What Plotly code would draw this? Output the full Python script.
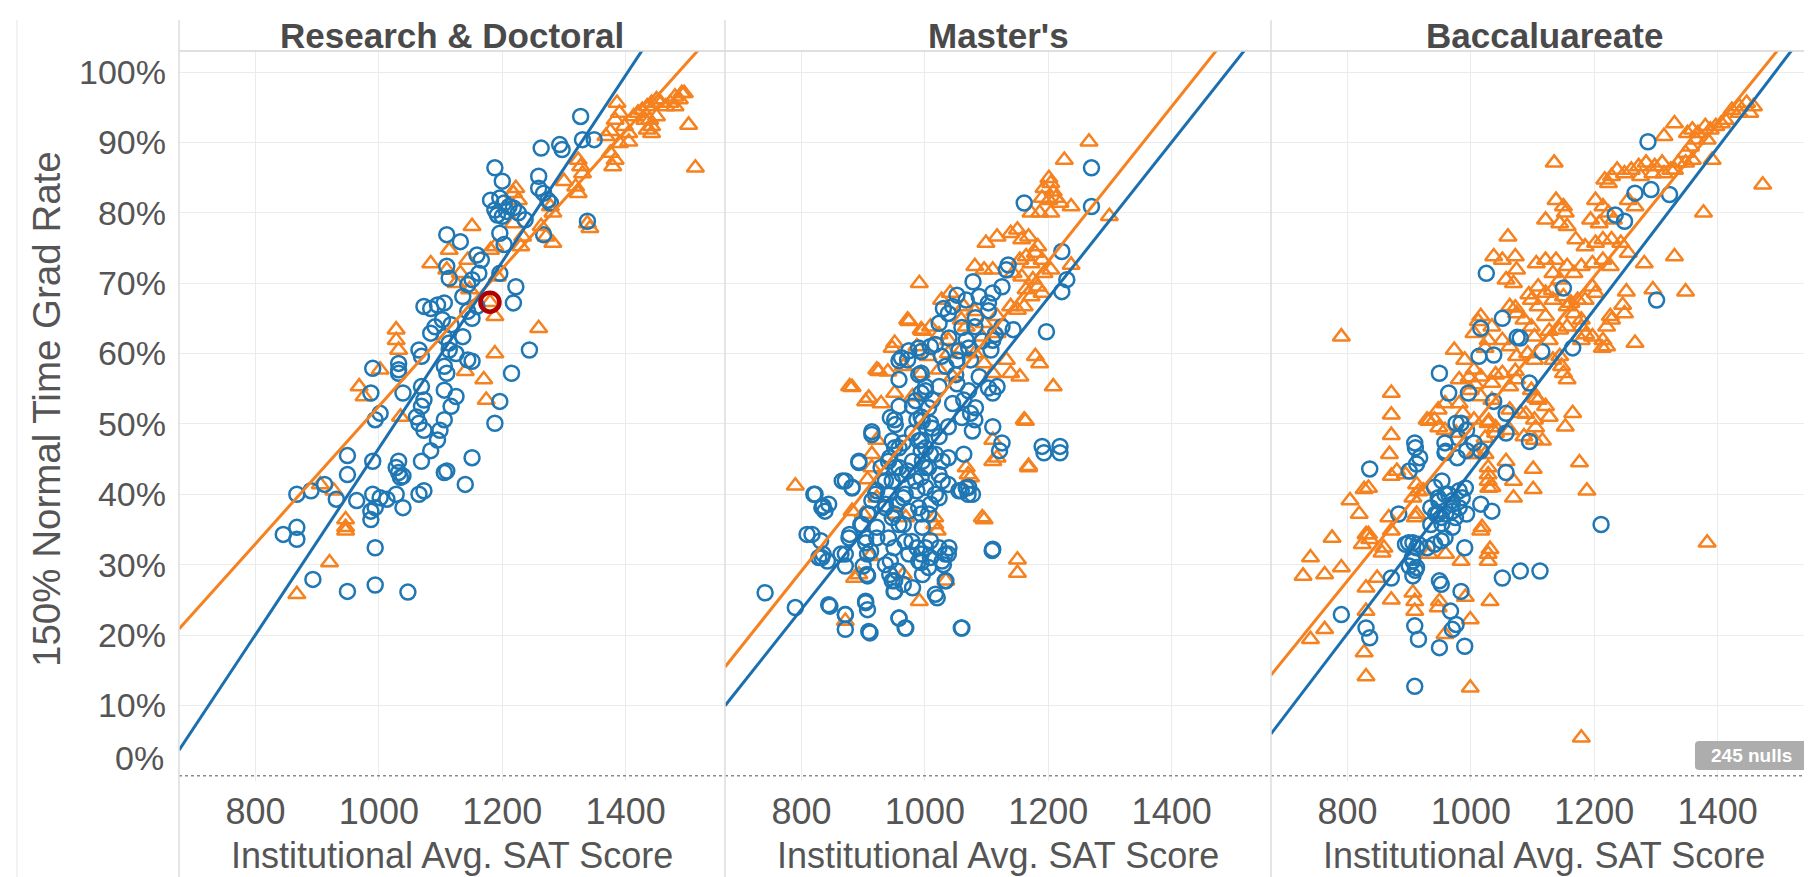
import plotly.graph_objects as go
from plotly.subplots import make_subplots

panels = ["Research & Doctoral", "Master's", "Baccaluareate"]
x_ticks = [800, 1000, 1200, 1400]
y_ticks = [10, 20, 30, 40, 50, 60, 70, 80, 90, 100]
y_ticktext = ["10%", "20%", "30%", "40%", "50%", "60%", "70%", "80%", "90%", "100%"]
x_range = [676, 1561]
y_range = [-0.75, 103.0]

# ---------------- Research & Doctoral ----------------
p1_blue_sat = [1327, 1263, 1293, 1297, 1330, 1349, 1338, 1259, 1259, 1267, 1188, 1200, 1181, 1188, 1196, 1203,
               1211, 1218, 1207, 1200, 1192, 1196, 1203, 1226, 1237, 1274, 1267, 1278, 1110, 1132, 1110, 1114,
               1159, 1166, 1162, 1151, 1144, 1196, 1222, 1218, 1073, 1084, 1095, 1106, 1103, 1091, 1117, 1144,
               1151, 1159, 1136, 1084, 1106, 1114, 1136, 1144, 1125, 1114, 1106, 1110, 1151, 1069, 1065, 1032,
               1032, 990, 987, 994, 1002, 1032, 1039, 1069, 1073, 1069, 1061, 1065, 1073, 1099, 1106, 1117,
               1125, 1106, 1095, 1188, 1196, 1244, 1215, 949, 949, 990, 1032, 1028, 1035, 1039, 1032, 1069,
               1084, 1065, 1073, 1110, 1106, 1151, 1140, 867, 890, 912, 931, 964, 990, 1002, 987, 987,
               994, 1013, 1028, 1039, 845, 867, 867, 893, 949, 994, 994, 1047]
p1_blue_rate = [93.7, 89.2, 89.7, 89.0, 90.4, 90.4, 78.8, 85.2, 83.5, 82.8, 86.4, 84.5, 81.8, 80.4, 82.1, 81.4,
                80.9, 80.7, 80.2, 79.5, 79.7, 77.1, 75.5, 80.0, 79.0, 81.8, 76.9, 81.4, 76.9, 75.9, 72.4, 70.7,
                74.0, 73.3, 71.4, 70.5, 69.8, 71.4, 69.5, 67.2, 66.7, 66.4, 66.9, 67.2, 64.8, 63.8, 64.1, 66.0,
                65.0, 66.7, 68.1, 62.9, 62.4, 61.5, 62.4, 59.1, 60.0, 60.5, 58.2, 57.2, 58.9, 59.6, 60.5, 58.6,
                57.7, 57.9, 54.4, 50.6, 51.5, 57.2, 54.4, 55.3, 53.4, 52.5, 51.0, 50.1, 49.1, 49.1, 54.8, 52.5,
                53.9, 50.6, 47.7, 50.1, 53.2, 60.5, 57.2, 45.5, 42.8, 44.7, 44.7, 43.8, 42.4, 42.6, 43.1, 44.7,
                46.2, 40.0, 40.5, 43.3, 43.1, 45.2, 41.4, 40.0, 40.5, 41.4, 39.3, 39.1, 40.0, 39.5, 37.6, 36.4,
                38.1, 39.3, 40.0, 38.1, 34.3, 35.3, 33.6, 27.9, 26.2, 32.4, 27.1, 26.1]

p1_orange_sat = [1386, 1390, 1383, 1398, 1405, 1375, 1368, 1390, 1405, 1413, 1427, 1435, 1442, 1450, 1457, 1465,
                 1472, 1480, 1487, 1491, 1480, 1495, 1439, 1442, 1442, 1435, 1502, 1513, 1431, 1420, 1450, 1375,
                 1383, 1379, 1323, 1327, 1330, 1319, 1323, 1338, 1342, 1300, 1278, 1282, 1263, 1271, 1282, 1233,
                 1230, 1222, 1218, 1226, 1218, 1188, 1181, 1192, 1151, 1114, 1084, 1110, 1132, 1144, 1125, 1147,
                 1188, 1259, 1188, 1170, 1174, 1140, 1028, 1028, 1032, 1002, 968, 976, 1035, 905, 927, 946,
                 946, 946, 920, 867, 1180]
p1_orange_rate = [95.6, 94.2, 93.2, 92.3, 91.3, 91.6, 90.9, 89.9, 90.1, 93.7, 94.6, 95.1, 95.6, 96.1, 95.6, 95.1,
                  95.6, 95.1, 96.1, 97.0, 96.5, 97.0, 93.2, 92.3, 91.3, 91.8, 92.5, 86.4, 93.2, 94.2, 93.7, 88.5,
                  87.5, 86.6, 87.5, 86.6, 85.6, 83.7, 82.8, 78.5, 77.8, 84.5, 80.9, 80.0, 78.1, 76.6, 75.7, 76.6,
                  75.2, 83.5, 82.8, 81.8, 78.5, 75.2, 74.7, 70.9, 78.1, 74.7, 72.8, 71.9, 71.4, 73.3, 70.0, 69.1,
                  65.3, 63.6, 60.0, 56.3, 53.4, 57.5, 63.4, 61.9, 60.5, 57.7, 55.3, 53.9, 51.0, 41.4, 40.5, 36.4,
                  35.3, 34.8, 30.3, 25.8, 67.3]

# ---------------- Master's ----------------
p2_blue_sat = [1270, 1270, 1161, 1222, 1230, 1222, 1135, 1132, 1125, 1110, 1078, 1052, 1045, 1030, 1067, 1088,
               1103, 1023, 1038, 1081, 1067, 1110, 1125, 1143, 1197, 962, 972, 994, 1009, 1027, 1052, 1074,
               1107, 1117, 1110, 1110, 951, 914, 980, 994, 1023, 1045, 1063, 1074, 1081, 1009, 1125, 1190,
               1219, 994, 1001, 958, 1012, 1052, 1034, 1088, 980, 994, 1023, 965, 1038, 994, 958, 987,
               893, 871, 882, 820, 835, 838, 809, 831, 828, 842, 835, 871, 864, 878, 896, 907,
               904, 907, 900, 907, 922, 922, 936, 943, 951, 951, 965, 980, 994, 994, 987, 1009,
               1009, 1023, 1038, 1030, 1020, 1034, 1059, 1067, 1070, 1110, 1063, 1121, 1193, 1219, 741, 790,
               846, 871, 871, 904, 907, 911, 958, 969, 1059, 958, 936, 965, 987, 994, 1001, 936,
               951, 965, 994, 1009, 1023, 929, 943, 980, 1009, 1038, 1023, 1038, 922, 914, 951, 972, 994,
               944, 952, 947, 958, 941, 952, 947, 941, 955, 947, 958, 941, 950, 944, 955, 947,
               950, 968, 974, 974, 968, 963, 936, 931, 920, 909, 904, 912, 906, 898,
               990, 1001, 985, 1006, 996, 1012, 990, 1001, 1017, 996, 1006, 985, 1001, 1017, 990, 1006,
               996, 979, 1001, 990, 1006, 996, 1028, 1028, 1033, 1039, 1028, 1033, 1017,
               958, 974, 990, 1017, 1039, 1060, 1082, 1103, 1055, 1071, 1093, 1114, 1050, 1071, 1082, 1060,
               1077, 1103, 1055, 1071, 1077,
               822, 833, 844, 866, 882, 893, 914, 817, 833, 871, 877, 904, 844, 871, 909, 958,
               968, 1060, 1109]
p2_blue_rate = [86.4, 80.9, 81.4, 74.5, 70.5, 68.8, 72.6, 71.9, 69.5, 68.6, 70.2, 68.3, 66.7, 66.4, 67.6, 68.1,
                67.2, 64.3, 65.7, 63.8, 61.9, 61.9, 63.8, 63.4, 63.1, 59.4, 59.1, 60.3, 61.0, 59.6, 59.1, 59.1,
                60.5, 55.3, 54.4, 49.6, 50.6, 48.9, 52.5, 54.4, 55.3, 52.9, 53.4, 51.5, 50.6, 50.1, 47.3, 46.8,
                46.8, 57.2, 55.3, 56.3, 53.4, 55.7, 58.2, 56.7, 48.7, 47.7, 48.2, 47.3, 49.6, 51.0, 52.5, 50.6,
                44.5, 41.9, 40.9, 40.0, 38.3, 37.6, 34.3, 33.4, 31.0, 30.5, 31.5, 29.8, 31.5, 34.3, 35.7, 37.2,
                33.1, 31.5, 29.8, 28.4, 33.8, 35.3, 30.0, 28.6, 27.7, 26.2, 27.2, 26.7, 31.5, 30.3, 32.4, 33.4,
                31.0, 32.4, 31.5, 30.0, 25.3, 27.7, 40.5, 40.9, 40.0, 32.2, 45.7, 46.2, 45.9, 45.9, 26.0, 23.9,
                24.1, 22.9, 20.8, 24.6, 23.6, 20.3, 22.4, 21.0, 21.0, 43.8, 41.9, 39.5, 40.5, 42.4, 43.8, 38.1,
                37.2, 35.7, 37.2, 38.6, 39.5, 43.8, 45.2, 44.7, 45.7, 45.2, 42.8, 41.4, 40.5, 39.1, 46.6, 43.3, 46.2,
                50.9, 49.9, 47.6, 46.6, 44.7, 43.8, 41.9, 40.0, 38.6, 36.7, 35.7, 33.8, 32.4, 30.5, 29.1, 27.7,
                26.2, 33.3, 31.5, 37.6, 40.0, 42.8, 38.6, 41.9, 40.0, 37.2, 33.8, 31.9, 28.6, 35.7,
                57.0, 54.7, 53.3, 52.3, 50.4, 49.4, 47.6, 46.6, 45.7, 44.7, 43.8, 41.9, 41.0, 40.0, 38.1, 37.2,
                35.3, 33.3, 32.4, 30.5, 29.6, 28.6, 44.7, 41.9, 31.5, 32.4, 30.5, 27.7, 25.8,
                59.0, 60.4, 60.8, 61.3, 62.2, 63.7, 65.1, 66.1, 60.4, 60.8, 61.8, 62.7, 57.0, 54.7, 52.3, 50.9,
                49.0, 55.1, 40.5, 41.0, 40.0,
                40.0, 38.1, 38.6, 41.9, 41.0, 44.7, 48.5, 34.3, 31.0, 31.5, 33.8, 24.8, 24.3, 22.9, 20.5, 22.4,
                21.0, 21.0, 32.0]

p2_orange_sat = [1266, 1226, 1201, 1204, 1193, 1208, 1190, 1201, 1212, 1219, 1237, 1172, 1186, 1204, 1299, 1099,
                 1117, 1139, 1150, 1157, 1168, 1183, 1179, 1164, 1154, 1172, 1190, 1193, 1204, 1237, 1081, 1096,
                 1110, 1143, 1157, 1175, 1183, 1164, 1172, 1190, 991, 1027, 1041, 1063, 1059, 1081, 1096, 1117,
                 1139, 1150, 1161, 972, 994, 1009, 1023, 1038, 1067, 1092, 1117, 951, 987, 1005, 1038, 1059,
                 1081, 1096, 1132, 922, 940, 965, 994, 1023, 1045, 1110, 1139, 1154, 1179, 1186, 1208, 878,
                 904, 929, 951, 980, 1161, 1110, 922, 790, 914, 914, 907, 922, 886, 893, 911, 965,
                 991, 969, 1016, 1020, 1016, 1067, 1070, 1074, 1096, 1110, 1117, 1168, 1150, 1150, 1034, 871,
                 951, 900, 882, 882, 909, 947, 974, 996, 925, 1093, 1163, 1168]
p2_orange_rate = [90.1, 87.5, 84.9, 84.2, 83.5, 83.0, 82.1, 81.8, 82.1, 81.4, 80.9, 80.0, 80.0, 80.0, 79.5, 75.7,
                  76.6, 77.1, 77.6, 76.2, 76.6, 75.2, 74.3, 73.8, 73.3, 72.8, 73.3, 71.4, 71.9, 72.6, 72.4, 71.9,
                  71.9, 71.4, 70.9, 70.5, 69.5, 69.1, 68.1, 68.6, 70.0, 67.6, 68.6, 66.7, 64.8, 66.0, 64.3, 65.3,
                  66.7, 66.2, 66.7, 64.8, 63.4, 63.8, 62.7, 61.9, 63.8, 62.4, 62.9, 61.5, 61.0, 59.6, 60.0, 60.5,
                  60.0, 58.6, 59.1, 57.7, 57.4, 58.2, 57.2, 57.7, 56.7, 57.2, 57.2, 56.7, 59.6, 58.6, 55.3, 55.3,
                  53.2, 52.9, 54.4, 53.9, 50.6, 47.7, 47.7, 41.2, 45.7, 43.8, 42.1, 39.5, 28.1, 28.6, 31.2, 28.6,
                  24.8, 36.7, 35.7, 34.8, 36.7, 43.8, 42.8, 42.4, 36.4, 44.7, 45.2, 43.8, 30.7, 28.8, 27.7, 22.0,
                  37.2, 37.2, 37.6, 55.2, 53.7, 60.8, 64.6, 63.2, 57.5, 36.7, 50.4, 44.0]

# ---------------- Baccaluareate ----------------
p3_blue_sat = [1287, 1266, 1292, 1322, 1234, 1249, 1025, 1150, 1301, 1051, 1016, 1080, 1013, 1037, 1115, 1165,
               949, 964, 996, 1037, 1095, 1057, 984, 976, 993, 1057, 909, 958, 1005, 1095, 836, 900,
               912, 917, 958, 993, 1016, 978, 883, 935, 947, 952, 970, 981, 993, 1016, 1034, 1057,
               947, 958, 981, 970, 935, 894, 906, 912, 929, 941, 958, 952, 906, 900, 912, 906,
               871, 990, 1051, 1080, 1112, 1211, 949, 952, 984, 967, 976, 970, 790, 830, 836, 909,
               915, 949, 990, 909,
               1075, 980, 959, 910, 953, 991, 948, 970, 943, 959, 899, 915, 905, 910, 964, 975,
               986, 953, 970, 941]
p3_blue_rate = [90.1, 82.8, 83.3, 82.6, 79.7, 78.8, 71.4, 69.3, 67.6, 65.0, 63.6, 62.2, 59.6, 59.8, 60.3, 60.8,
                57.2, 54.4, 54.4, 53.2, 55.8, 51.5, 50.1, 50.1, 49.1, 48.7, 47.3, 47.3, 47.3, 47.5, 43.6, 43.3,
                44.3, 45.2, 45.9, 46.2, 46.2, 45.2, 37.2, 38.1, 37.2, 36.7, 37.6, 38.1, 37.2, 38.6, 37.6, 43.1,
                39.5, 40.0, 40.5, 39.1, 35.7, 32.9, 33.1, 32.4, 32.4, 32.9, 33.8, 33.4, 30.5, 29.8, 29.6, 28.4,
                28.1, 32.4, 28.1, 29.1, 29.1, 35.7, 27.7, 27.2, 26.2, 23.4, 21.5, 20.8, 22.9, 21.0, 19.6, 21.3,
                19.4, 18.2, 18.4, 12.7,
                62.3, 48.0, 46.1, 46.6, 41.9, 40.9, 39.0, 38.6, 37.2, 37.2, 33.1, 32.9, 31.0, 29.2, 40.0, 36.7,
                39.5, 35.8, 35.3, 41.0]

p3_orange_sat = [1330, 1313, 1351, 1359, 1368, 1380, 1388, 1397, 1406, 1412, 1423, 1435, 1447, 1458, 1452, 1435,
                 1383, 1365, 1356, 1348, 1359, 1391, 1348, 1336, 1330, 1310, 1298, 1284, 1272, 1260, 1249, 1237,
                 1228, 1217, 1223, 1275, 1295, 1313, 1324, 1473, 1377, 1135, 1138, 1150, 1153, 1121, 1202, 1214,
                 1223, 1194, 1208, 1231, 1255, 1266, 1144, 1156, 1170, 1185, 1202, 1214, 1228, 1243, 1255, 1060,
                 1037, 1051, 1072, 1074, 1057, 1069, 1106, 1121, 1138, 1156, 1133, 1144, 1167, 1179, 1197, 1214,
                 1226, 1281, 1330, 1252, 1295, 1348, 1109, 1121, 1098, 1109, 1133, 1150, 1162, 1173, 1197, 1202,
                 1185, 1156, 1167, 1179, 1063, 1074, 1086, 1098, 1121, 1103, 1127, 1144, 1156, 1179, 1197, 1214,
                 1226, 1220, 1228, 1246, 1249, 1016, 1034, 1005, 1028, 1051, 1063, 1074, 1092, 1103, 1133, 1147,
                 1150, 1156, 1144, 1179, 1220, 1266, 790, 973, 990, 1005, 1016, 1034, 1051, 1063, 1074, 1098,
                 1109, 1121, 1127, 1103, 1080, 1063, 1034, 1016, 999, 981, 981, 987, 1005, 1028, 1040, 1063,
                 1086, 1103, 958, 947, 941, 929, 958, 976, 871, 871, 871, 1165, 1153,
                 868, 880, 871, 894, 827, 804, 819, 775, 830, 836, 824, 740, 728, 763, 790, 856,
                 859, 871, 830, 848, 871, 906, 909, 912, 906, 923, 912, 947, 958, 999, 984, 1016,
                 1031, 1028, 1031, 1028, 1010, 1028, 1028, 1028, 1034, 1057, 1069, 1069, 1101, 1101, 1176, 1188,
                 1383, 1179, 740, 763, 827, 830, 999, 830, 909, 949, 1005,
                 834, 915, 932, 948, 1012, 1023, 1072, 1094, 1127, 1186, 1213, 1105, 1089, 1029, 1040, 1023,
                 1105, 1116, 1029, 1018, 910, 867, 991, 834, 932, 959, 1023, 1040, 1072, 997, 1007, 1132]
p3_orange_rate = [92.7, 90.9, 91.3, 91.8, 91.3, 92.3, 91.8, 92.3, 92.7, 93.2, 94.6, 95.1, 95.6, 95.1, 94.2, 94.2,
                  90.4, 90.4, 89.4, 88.5, 87.5, 87.5, 87.1, 87.1, 86.1, 87.1, 86.6, 87.1, 86.6, 86.1, 85.6, 86.1,
                  85.2, 84.7, 84.2, 85.2, 85.6, 85.6, 86.1, 84.0, 80.0, 87.1, 81.8, 80.9, 80.0, 79.0, 81.8, 80.9,
                  80.0, 79.0, 78.5, 79.0, 81.8, 80.9, 78.5, 78.1, 76.2, 75.2, 75.7, 76.2, 76.2, 75.7, 74.3, 76.6,
                  73.8, 73.3, 73.8, 71.9, 70.5, 70.0, 72.8, 73.3, 73.3, 72.4, 71.4, 70.5, 71.4, 72.4, 72.8, 73.3,
                  72.4, 72.8, 73.8, 68.8, 69.1, 68.8, 69.5, 68.6, 67.6, 66.7, 67.6, 68.1, 67.2, 67.6, 69.5, 68.6,
                  67.6, 66.7, 65.7, 64.8, 66.7, 65.7, 64.8, 63.8, 65.3, 62.4, 61.9, 63.4, 63.8, 63.8, 62.4, 61.9,
                  65.3, 63.8, 64.8, 66.9, 65.7, 65.3, 63.8, 62.9, 61.9, 61.9, 61.0, 59.6, 60.0, 59.1, 59.1, 58.2,
                  57.2, 56.3, 59.6, 61.9, 61.0, 61.5, 62.4, 60.5, 59.1, 57.7, 56.7, 55.8, 57.2, 55.3, 56.3, 54.8,
                  53.4, 52.5, 51.0, 50.6, 51.5, 52.0, 53.4, 53.9, 54.8, 56.3, 52.9, 51.5, 50.6, 50.1, 48.7, 49.1,
                  48.2, 47.7, 52.9, 52.0, 50.6, 50.6, 49.1, 48.7, 54.4, 51.3, 48.4, 51.5, 49.6,
                  45.7, 43.3, 42.6, 42.8, 40.7, 39.1, 37.2, 33.8, 34.3, 33.6, 32.9, 31.0, 28.4, 28.6, 29.6, 31.7,
                  32.4, 34.8, 26.7, 28.1, 25.0, 26.0, 23.4, 37.2, 39.5, 40.5, 41.4, 23.9, 20.1, 22.2, 30.5, 34.8,
                  32.2, 31.5, 24.8, 30.5, 45.7, 43.8, 42.8, 41.9, 41.0, 44.7, 41.9, 39.5, 43.6, 40.7, 44.5, 40.5,
                  33.1, 5.4, 19.4, 20.8, 17.5, 14.1, 12.5, 23.4, 24.8, 24.8, 45.7,
                  40.9, 40.4, 50.4, 49.5, 64.6, 60.8, 66.5, 68.4, 63.2, 62.7, 60.8, 53.7, 51.4, 50.4, 49.5, 48.0,
                  49.5, 47.6, 40.9, 35.3, 36.7, 36.7, 25.4, 34.3, 31.5, 31.5, 45.7, 57.0, 57.5, 56.6, 55.6, 69.0]

# Trend lines: values at SAT 700 and SAT 1500
trend_sat = [700, 1500]
p1_blue_trend = [6.8, 112.8]
p1_orange_trend = [23.2, 101.4]
p2_blue_trend = [12.6, 101.1]
p2_orange_trend = [18.1, 106.1]
p3_blue_trend = [8.7, 100.8]
p3_orange_trend = [16.9, 103.4]

# highlighted (selected) mark
selected_sat = [1180]
selected_rate = [67.3]

BLUE = "#1f77b4"
ORANGE = "#f5811f"
FONT = "Liberation Sans, Arial, sans-serif"
TXT = "#555555"

fig = make_subplots(rows=1, cols=3, shared_yaxes=True, horizontal_spacing=0)

data = [
    (p1_blue_sat, p1_blue_rate, p1_orange_sat, p1_orange_rate, p1_blue_trend, p1_orange_trend),
    (p2_blue_sat, p2_blue_rate, p2_orange_sat, p2_orange_rate, p2_blue_trend, p2_orange_trend),
    (p3_blue_sat, p3_blue_rate, p3_orange_sat, p3_orange_rate, p3_blue_trend, p3_orange_trend),
]


def extend(tr):
    slope = (tr[1] - tr[0]) / (trend_sat[1] - trend_sat[0])
    return [tr[0] + (x - trend_sat[0]) * slope for x in x_range]


for i, (bs, br, osat, orate, bt, ot) in enumerate(data, start=1):
    fig.add_trace(go.Scatter(x=osat, y=orate, mode="markers", showlegend=False,
                             marker=dict(symbol="triangle-up-open", size=15, color=ORANGE,
                                         line=dict(width=2.5, color=ORANGE))), row=1, col=i)
    fig.add_trace(go.Scatter(x=bs, y=br, mode="markers", showlegend=False,
                             marker=dict(symbol="circle-open", size=15, color=BLUE,
                                         line=dict(width=2.5, color=BLUE))), row=1, col=i)
    fig.add_trace(go.Scatter(x=x_range, y=extend(ot), mode="lines", showlegend=False,
                             line=dict(color=ORANGE, width=3)), row=1, col=i)
    fig.add_trace(go.Scatter(x=x_range, y=extend(bt), mode="lines", showlegend=False,
                             line=dict(color="#1c6fae", width=3)), row=1, col=i)

fig.add_trace(go.Scatter(x=selected_sat, y=selected_rate, mode="markers", showlegend=False,
                         marker=dict(symbol="circle-open", size=19, color="#b00000",
                                     line=dict(width=4.5, color="#b00000"))), row=1, col=1)

for i in range(1, 4):
    fig.update_xaxes(range=x_range, tickvals=x_ticks, showgrid=True, gridcolor="#ebebeb", gridwidth=1,
                     zeroline=False, showline=False, ticks="", ticklabelstandoff=6, automargin=False,
                     tickfont=dict(family=FONT, size=36, color=TXT), row=1, col=i)
    fig.update_yaxes(range=y_range, tickvals=y_ticks, ticktext=y_ticktext, showgrid=True,
                     gridcolor="#ebebeb", gridwidth=1, zeroline=False, showline=False, ticks="",
                     automargin=False, row=1, col=i)
fig.update_yaxes(tickfont=dict(family=FONT, size=34, color=TXT), ticklabelstandoff=12, row=1, col=1)

shapes = []
for xr in ["x", "x2", "x3"]:
    shapes.append(dict(type="line", xref=xr + " domain", yref="y", x0=0, x1=1, y0=0, y1=0,
                       line=dict(color="#8a8a8a", width=1.5, dash="dot")))
shapes.append(dict(type="line", xref="paper", yref="paper", x0=0, x1=1, y0=1, y1=1,
                   line=dict(color="#d6d6d6", width=1.5)))
for xp in [0, 1 / 3, 2 / 3]:
    shapes.append(dict(type="line", xref="paper", yref="paper", x0=xp, x1=xp, y0=-0.15, y1=1.042,
                       line=dict(color="#dcdcdc", width=1.5)))
shapes.append(dict(type="line", xref="paper", yref="paper", x0=-0.0989, x1=-0.0989, y0=-0.15, y1=1.042,
                   line=dict(color="#eeeeee", width=1.5)))

# rounded badge for the "245 nulls" indicator
bx0, bx1, by0, by1, rx, ry = 0.9255, 0.9945, 0.0151, 0.0548, 0.0025, 0.0055
badge_path = ("M {a},{y0} L {b},{y0} Q {x1},{y0} {x1},{c} L {x1},{d} Q {x1},{y1} {b},{y1} "
              "L {a},{y1} Q {x0},{y1} {x0},{d} L {x0},{c} Q {x0},{y0} {a},{y0} Z").format(
    a=bx0 + rx, b=bx1 - rx, c=by0 + ry, d=by1 - ry, x0=bx0, x1=bx1, y0=by0, y1=by1)
shapes.append(dict(type="path", xref="paper", yref="paper", path=badge_path,
                   fillcolor="#adadad", line=dict(width=0)))

annotations = []
for i, name in enumerate(panels):
    cx = (i + 0.5) / 3
    annotations.append(dict(text="<b>%s</b>" % name, x=cx, y=1.0219, xref="paper", yref="paper",
                            xanchor="center", yanchor="middle", showarrow=False,
                            font=dict(family=FONT, size=35, color="#4a4a4a")))
    annotations.append(dict(text="Institutional Avg. SAT Score", x=cx, y=-0.1027, xref="paper", yref="paper",
                            xanchor="center", yanchor="middle", showarrow=False,
                            font=dict(family=FONT, size=36, color=TXT)))
annotations.append(dict(text="150% Normal Time Grad Rate", x=-0.0806, y=0.5096, xref="paper", yref="paper",
                        xanchor="center", yanchor="middle", textangle=-90, showarrow=False,
                        font=dict(family=FONT, size=38.5, color=TXT)))
annotations.append(dict(text="0%", x=-0.0079, y=0.0315, xref="paper", yref="paper",
                        xanchor="right", yanchor="middle", showarrow=False,
                        font=dict(family=FONT, size=34, color=TXT)))
annotations.append(dict(text="<b>245 nulls</b>", x=(bx0 + bx1) / 2, y=(by0 + by1) / 2, xref="paper",
                        yref="paper", xanchor="center", yanchor="middle", showarrow=False,
                        font=dict(family=FONT, size=19, color="white")))

fig.update_layout(width=1812, height=877, margin=dict(l=171, r=3, t=43, b=104),
                  plot_bgcolor="white", paper_bgcolor="white", shapes=shapes, annotations=annotations,
                  showlegend=False)

fig.write_html("out.html")
